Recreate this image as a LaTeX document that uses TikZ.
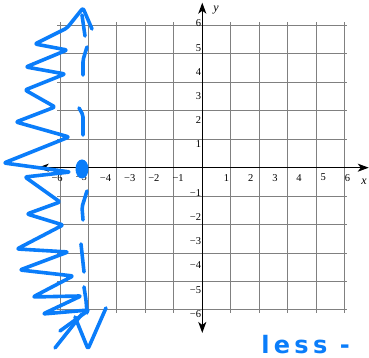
\documentclass[tikz,border=0pt]{standalone}
\usepackage{fontspec}
\setmainfont{Liberation Serif}
\newfontfamily\handfont[LetterSpace=18]{DejaVu Sans}
\usepackage{xcolor}
\usepackage{tikz}
\usetikzlibrary{arrows.meta}
\definecolor{inkblue}{RGB}{10,125,250}

\begin{document}
\begin{tikzpicture}[
    x=24.2pt, y=24.2pt,
    gridline/.style={draw=black!50, line width=1pt},
    axis/.style={draw, line width=1.3pt, {Stealth[length=11pt, width=8pt, inset=3pt]}-{Stealth[length=11pt, width=8pt, inset=3pt]}},
    xtick/.style={font=\fontsize{10.5}{10.5}\selectfont, inner sep=0pt, anchor=center},
    ytick/.style={font=\fontsize{10.5}{10.5}\selectfont, inner sep=0pt, anchor=east},
    axislabel/.style={font=\fontsize{12}{12}\selectfont\itshape, inner sep=0pt},
    ink/.style={draw=inkblue, line width=3.6pt, line cap=round, line join=round, rounded corners=2pt}
]
\useasboundingbox (-8.36,-7.86) rectangle (6.89,6.93);
\draw[gridline] (-6,-6) grid (6,6);
\coordinate (xleft) at (-6.8,0);
\coordinate (xright) at (6.88,0);
\coordinate (ybottom) at (0,-6.83);
\coordinate (ytop) at (0,6.82);
\draw[axis] (xleft) -- (xright);
\draw[axis] (ybottom) -- (ytop);
\foreach \i in {1,...,6} {
    \node[xtick] (xpos\i) at (\i,-0.41) {\i};
    \node[xtick] (xneg\i) at (-\i,-0.41) {−\i};
    \node[ytick] (ypos\i) at (-0.04,\i-0.04) {\i};
    \node[ytick] (yneg\i) at (-0.04,-\i-0.04) {−\i};
}
\node[axislabel] (xname) at (6.68,-0.59) {x};
\node[axislabel] (yname) at (0.57,6.5) {y};
\begin{scope}[shift={(-202.3pt,167.7pt)}, x=1pt, y=-1pt]
\draw[ink] (92,29) -- (83,8) -- (67,28) -- (35,44) -- (67,50) -- (26,67) -- (65,74) -- (25,90) -- (55,107) -- (16,122) -- (69,137) -- (4,163) -- (70,172) -- (25,177) -- (60,202) -- (27,214) -- (63,225) -- (17,249) -- (68,252) -- (20,270) -- (73,276) -- (33,297) -- (81,296) -- (43,314) -- (89,310) -- (60,331);
\draw[ink] (82,314) -- (55,348);
\draw[ink] (75,317) -- (88,349) -- (106,308);
\draw[ink] (82,15) -- (85,36);
\draw[ink] (87,47) -- (83,60) -- (83,75);
\draw[ink] (79,108) -- (83,115) -- (83,135);
\fill[inkblue] (82,169) ellipse [x radius=6.5pt, y radius=9.5pt];
\draw[ink] (87,191) -- (82,207) -- (83,220);
\draw[ink] (81,244) -- (84,272);
\draw[ink] (84,287) -- (86,300) -- (87,313);
\end{scope}
\node[font=\handfont\bfseries\fontsize{24}{24}\selectfont, text=inkblue, anchor=base west, inner sep=0pt] (note) at (2.43,-7.68) {less -};
\end{tikzpicture}
\end{document}
